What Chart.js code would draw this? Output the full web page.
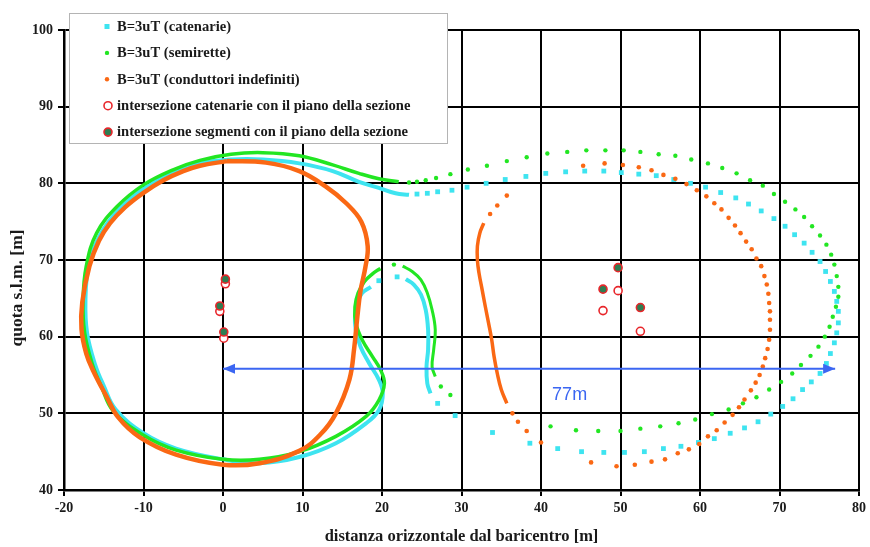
<!DOCTYPE html>
<html>
<head>
<meta charset="utf-8">
<script src="https://cdn.jsdelivr.net/npm/chart.js@4.4.1/dist/chart.umd.min.js"></script>
<style>
  html, body { margin: 0; padding: 0; background: #fff; }
</style>
</head>
<body>
<canvas id="chart" width="870" height="547"></canvas>
<script>
// --- data: [distance m, height m] ---
const orangeLoop = [[0.5, 82.9], [5.4, 82.7], [9.6, 81.6], [12.9, 79.6], [15.5, 77.4], [17.4, 75.0], [18.2, 71.8], [17.9, 69.0], [17.3, 66.0], [16.9, 62.6], [16.5, 58.5], [15.9, 54.4], [14.2, 50.0], [12.3, 47.3], [9.6, 45.1], [4.6, 43.5], [0.0, 43.3], [-5.9, 44.6], [-10.5, 46.9], [-13.2, 49.5], [-14.7, 52.3], [-16.3, 55.5], [-17.2, 57.8], [-17.8, 61.0], [-17.7, 64.5], [-16.8, 69.2], [-15.6, 72.5], [-14.2, 74.8], [-12.3, 76.9], [-10.1, 78.7], [-7.5, 80.4], [-5.0, 81.6], [-2.9, 82.3], [0.5, 82.9]];
const orangeBranch = [[32.8, 74.8], [32.3, 73.5], [32.0, 71.8], [32.0, 70.0], [32.2, 68.3], [32.6, 66.1], [33.0, 63.9], [33.4, 61.8], [33.8, 59.6], [34.1, 57.4], [34.5, 55.2], [35.0, 53.1], [35.7, 51.3]];
const orangeDots = [[35.7, 78.4], [34.5, 77.1], [33.6, 76.0], [36.4, 50.0], [37.1, 48.9], [38.2, 47.7], [40.0, 46.2], [46.3, 43.6], [49.5, 43.1], [51.8, 43.3], [53.9, 43.7], [55.6, 44.0], [57.2, 44.8], [58.6, 45.3], [59.9, 46.0], [61.0, 47.0], [62.1, 47.8], [63.1, 48.8], [64.1, 49.8], [64.9, 50.8], [65.6, 51.8], [66.4, 53.0], [67.0, 54.0], [67.5, 55.0], [67.9, 56.1], [68.2, 57.2], [68.5, 58.4], [68.7, 59.6], [68.8, 60.9], [68.8, 62.2], [68.8, 63.3], [68.7, 64.4], [68.6, 65.6], [68.4, 66.8], [68.1, 67.9], [67.7, 69.2], [67.1, 70.2], [66.5, 71.4], [65.8, 72.4], [65.1, 73.5], [64.4, 74.5], [63.6, 75.5], [62.7, 76.6], [61.8, 77.4], [60.8, 78.3], [59.6, 79.1], [58.3, 79.9], [56.9, 80.6], [55.4, 81.1], [53.9, 81.7], [52.3, 82.1], [50.3, 82.4], [48.0, 82.6], [45.3, 82.3]];

const greenLoop = [[22.1, 80.2], [19.6, 80.6], [17.1, 81.3], [13.8, 82.4], [9.6, 83.6], [5.0, 84.0], [1.0, 83.8], [-2.9, 83.0], [-6.2, 81.8], [-10.0, 79.8], [-13.3, 77.0], [-15.9, 73.5], [-17.2, 69.2], [-17.6, 64.8], [-17.4, 60.5], [-16.4, 56.3], [-15.3, 53.5], [-13.8, 50.3], [-10.1, 47.2], [-5.9, 45.2], [0.0, 44.0], [4.6, 44.0], [9.6, 45.0], [14.2, 47.0], [18.0, 49.6], [19.6, 51.7], [20.3, 53.9], [19.8, 55.7], [18.8, 57.4], [17.5, 59.6], [16.7, 61.8], [16.6, 63.9], [17.0, 65.7], [17.8, 67.2], [18.8, 68.2], [19.8, 68.9]];
const greenHook = [[22.6, 69.2], [23.8, 68.5], [24.9, 67.4], [25.7, 65.7], [26.3, 63.5], [26.7, 60.9], [26.5, 58.3], [26.3, 56.1], [26.7, 54.8]];
const greenDots = [[21.5, 69.4], [27.4, 53.5], [28.6, 52.4], [41.2, 48.3], [44.4, 47.8], [47.2, 47.7], [50.0, 47.7], [52.5, 48.0], [55.0, 48.3], [57.3, 48.7], [59.4, 49.2], [61.5, 49.9], [63.6, 50.5], [65.4, 51.3], [67.1, 52.1], [68.7, 53.1], [70.2, 54.1], [71.6, 55.2], [72.7, 56.3], [73.9, 57.5], [74.9, 58.7], [75.7, 60.0], [76.3, 61.3], [76.7, 62.6], [77.1, 63.9], [77.4, 65.2], [77.4, 66.5], [77.2, 67.9], [76.9, 69.4], [76.5, 70.7], [75.9, 72.0], [75.1, 73.2], [74.1, 74.4], [73.1, 75.6], [72.0, 76.6], [70.7, 77.6], [69.3, 78.6], [67.9, 79.7], [66.3, 80.4], [64.6, 81.3], [62.8, 82.0], [61.0, 82.6], [58.9, 83.1], [56.9, 83.6], [54.8, 83.8], [52.5, 84.1], [50.4, 84.3], [48.1, 84.3], [45.7, 84.3], [43.3, 84.1], [40.8, 83.9], [38.2, 83.4], [35.7, 82.9], [33.2, 82.3], [30.8, 81.8], [28.6, 81.2], [26.8, 80.7], [25.5, 80.4], [24.4, 80.2], [23.4, 80.1]];

const cyanLoop = [[23.4, 78.5], [21.7, 78.7], [19.6, 79.4], [17.1, 80.2], [13.8, 81.6], [9.6, 82.6], [5.0, 83.1], [1.0, 83.1], [-2.9, 82.6], [-6.0, 81.5], [-9.8, 79.4], [-13.0, 76.7], [-15.5, 73.2], [-16.9, 69.2], [-17.3, 64.8], [-17.1, 60.5], [-16.1, 56.4], [-15.0, 53.6], [-13.5, 50.5], [-10.0, 47.4], [-5.9, 45.4], [0.0, 44.0], [4.6, 43.5], [9.6, 44.3], [14.2, 46.1], [18.0, 48.7], [19.6, 50.4], [20.1, 52.6], [19.6, 54.4], [18.4, 56.5], [17.3, 58.7], [16.7, 60.9], [16.6, 62.6], [16.9, 64.4], [17.5, 65.7], [18.6, 66.5]];
const cyanHook = [[23.0, 67.5], [24.0, 66.8], [24.9, 65.5], [25.5, 63.5], [25.8, 60.9], [25.8, 58.3], [25.6, 56.1], [25.7, 53.9], [26.1, 52.6]];
const cyanDots = [[19.6, 67.3], [21.9, 67.8], [27.0, 51.3], [29.2, 49.7], [33.9, 47.5], [38.6, 46.1], [42.1, 45.4], [45.1, 45.0], [47.9, 44.9], [50.5, 44.9], [53.0, 45.0], [55.4, 45.4], [57.6, 45.7], [59.8, 46.2], [61.8, 46.7], [63.8, 47.4], [65.6, 48.1], [67.3, 48.9], [68.9, 49.9], [70.4, 50.9], [71.7, 51.9], [72.9, 53.1], [74.0, 54.1], [75.1, 55.2], [75.9, 56.5], [76.4, 57.8], [76.9, 59.2], [77.2, 60.5], [77.4, 61.8], [77.4, 63.3], [77.2, 64.6], [76.9, 65.9], [76.4, 67.2], [75.8, 68.5], [75.1, 69.8], [74.1, 71.0], [73.1, 72.2], [71.9, 73.3], [70.7, 74.4], [69.3, 75.4], [67.7, 76.4], [66.1, 77.3], [64.5, 78.1], [62.6, 78.8], [60.7, 79.5], [58.8, 80.0], [56.7, 80.5], [54.5, 81.0], [52.3, 81.2], [50.1, 81.4], [47.9, 81.6], [45.5, 81.6], [43.1, 81.5], [40.6, 81.3], [38.1, 80.9], [35.5, 80.5], [33.1, 80.0], [30.7, 79.5], [28.8, 79.1], [27.0, 78.9], [25.7, 78.7], [24.4, 78.6]];

const catenaryHits = [[0.3, 66.9], [-0.4, 63.3], [0.1, 59.8], [49.7, 66.0], [47.8, 63.4], [52.5, 60.7]];
const segmentHits = [[0.3, 67.5], [-0.4, 64.0], [0.1, 60.6], [49.7, 69.0], [47.8, 66.2], [52.5, 63.8]];

const spanArrow = [[0, 55.8], [77, 55.8]];
const spanLabel = "77m";
const spanLabelAt = [43.6, 52.4];

const legendLabels = [
  "B=3uT (catenarie)",
  "B=3uT (semirette)",
  "B=3uT (conduttori indefiniti)",
  "intersezione catenarie con il piano della sezione",
  "intersezione segmenti con il piano della sezione",
];
const xTitle = "distanza orizzontale dal baricentro [m]";
const yTitle = "quota s.l.m. [m]";

const CYAN = "#3ee4f0";
const GREEN = "#22e622";
const ORANGE = "#fa6814";
const RED = "#e8262b";
const DARK_GREEN = "#2f7d52";
const BLUE = "#3b66f2";
const SERIF = '"Liberation Serif", "Times New Roman", serif';

const toXY = (pts) => pts.map(([x, y]) => ({ x, y }));

function lineSet(pts, color, width, order) {
  return {
    data: toXY(pts),
    showLine: true,
    borderColor: color,
    borderWidth: width,
    tension: 0.4,
    pointRadius: 0,
    pointHoverRadius: 0,
    order,
  };
}

function dotSet(pts, color, style, radius, order) {
  return {
    data: toXY(pts),
    showLine: false,
    pointStyle: style,
    pointRadius: radius,
    pointHoverRadius: radius,
    pointBackgroundColor: color,
    pointBorderWidth: 0,
    order,
  };
}

const datasets = [
  lineSet(cyanLoop, CYAN, 4, 6),
  lineSet(cyanHook, CYAN, 4, 6),
  dotSet(cyanDots, CYAN, "rect", 3.4, 6),
  lineSet(greenLoop, GREEN, 3.5, 5),
  lineSet(greenHook, GREEN, 3, 5),
  dotSet(greenDots, GREEN, "circle", 2.2, 5),
  lineSet(orangeLoop, ORANGE, 4.5, 4),
  lineSet(orangeBranch, ORANGE, 3.5, 4),
  dotSet(orangeDots, ORANGE, "circle", 2.3, 4),
  {
    data: toXY(catenaryHits),
    showLine: false,
    pointRadius: 4,
    pointBackgroundColor: "#ffffff",
    pointBorderColor: RED,
    pointBorderWidth: 1.6,
    order: 3,
  },
  {
    data: toXY(segmentHits),
    showLine: false,
    pointRadius: 4,
    pointBackgroundColor: DARK_GREEN,
    pointBorderColor: RED,
    pointBorderWidth: 1.6,
    order: 2,
  },
  {
    data: toXY(spanArrow),
    showLine: true,
    borderColor: BLUE,
    borderWidth: 2,
    pointRadius: 0,
    tension: 0,
    arrow: true,
    order: 1,
  },
];

// draws arrowheads, the in-plot legend box, the y title and the span label
const overlayPlugin = {
  id: "overlay",
  afterDatasetsDraw(chart) {
    const ctx = chart.ctx;
    chart.data.datasets.forEach((ds, i) => {
      if (!ds.arrow) return;
      const pts = chart.getDatasetMeta(i).data;
      const ends = [[pts[0], pts[1]], [pts[pts.length - 1], pts[pts.length - 2]]];
      ctx.save();
      ctx.fillStyle = ds.borderColor;
      ends.forEach(([tip, from]) => {
        const dir = Math.sign(tip.x - from.x);
        ctx.beginPath();
        ctx.moveTo(tip.x, tip.y);
        ctx.lineTo(tip.x - dir * 12, tip.y - 5);
        ctx.lineTo(tip.x - dir * 12, tip.y + 5);
        ctx.closePath();
        ctx.fill();
      });
      ctx.restore();
    });
  },
  afterDraw(chart) {
    const ctx = chart.ctx;
    const { x: xs, y: ys } = chart.scales;
    ctx.save();

    // span label
    ctx.font = '18px "Liberation Sans", Arial, sans-serif';
    ctx.fillStyle = BLUE;
    ctx.textAlign = "center";
    ctx.textBaseline = "middle";
    ctx.fillText(spanLabel, xs.getPixelForValue(spanLabelAt[0]), ys.getPixelForValue(spanLabelAt[1]));

    // y title
    ctx.save();
    ctx.translate(17, 288);
    ctx.rotate(-Math.PI / 2);
    ctx.font = "bold 17.5px " + SERIF;
    ctx.fillStyle = "#1a1a1a";
    ctx.fillText(yTitle, 0, 0);
    ctx.restore();

    // legend box
    const box = { left: 69, top: 13, width: 378, height: 130 };
    ctx.fillStyle = "#fff";
    ctx.fillRect(box.left, box.top, box.width, box.height);
    ctx.strokeStyle = "#b4b4b4";
    ctx.lineWidth = 1;
    ctx.strokeRect(box.left + 0.5, box.top + 0.5, box.width, box.height);

    ctx.font = "bold 14.6px " + SERIF;
    ctx.textAlign = "left";
    ctx.textBaseline = "middle";
    legendLabels.forEach((label, i) => {
      const cy = box.top + 13.5 + i * 26.4;
      const mx = 107;
      if (i === 0) {
        ctx.fillStyle = CYAN;
        ctx.fillRect(mx - 2.5, cy - 2.5, 5, 5);
      } else if (i === 1 || i === 2) {
        ctx.fillStyle = i === 1 ? GREEN : ORANGE;
        ctx.beginPath();
        ctx.arc(mx, cy, 2.2, 0, Math.PI * 2);
        ctx.fill();
      } else {
        ctx.beginPath();
        ctx.arc(mx + 1, cy, 4, 0, Math.PI * 2);
        ctx.fillStyle = i === 3 ? "#fff" : DARK_GREEN;
        ctx.fill();
        ctx.strokeStyle = RED;
        ctx.lineWidth = 1.6;
        ctx.stroke();
      }
      ctx.fillStyle = "#1a1a1a";
      ctx.fillText(label, 117, cy + 0.5);
    });
    ctx.restore();
  },
};

const tickFont = { family: SERIF, size: 14, weight: "bold" };

new Chart(document.getElementById("chart"), {
  type: "scatter",
  data: { datasets },
  options: {
    responsive: false,
    animation: false,
    events: [],
    layout: { padding: { left: 0, right: 8, top: 30, bottom: 0 } },
    plugins: {
      legend: { display: false },
      tooltip: { enabled: false },
    },
    scales: {
      x: {
        type: "linear",
        min: -20,
        max: 80,
        ticks: { stepSize: 10, font: tickFont, color: "#1a1a1a", padding: 4, maxRotation: 0 },
        grid: { color: "#000", lineWidth: 2, tickLength: 6, tickColor: "#000", tickWidth: 2 },
        border: { color: "#000", width: 2.5 },
        title: {
          display: true,
          text: xTitle,
          font: { family: SERIF, size: 16.5, weight: "bold" },
          color: "#1a1a1a",
          padding: { top: 0, bottom: 0 },
        },
        afterFit: (scale) => { scale.height = 57; },
      },
      y: {
        type: "linear",
        min: 40,
        max: 100,
        ticks: { stepSize: 10, font: tickFont, color: "#1a1a1a", padding: 5 },
        grid: { color: "#000", lineWidth: 2, tickLength: 6, tickColor: "#000", tickWidth: 2 },
        border: { color: "#000", width: 2.5 },
        afterFit: (scale) => { scale.width = 64; },
      },
    },
  },
  plugins: [overlayPlugin],
});
</script>
</body>
</html>
